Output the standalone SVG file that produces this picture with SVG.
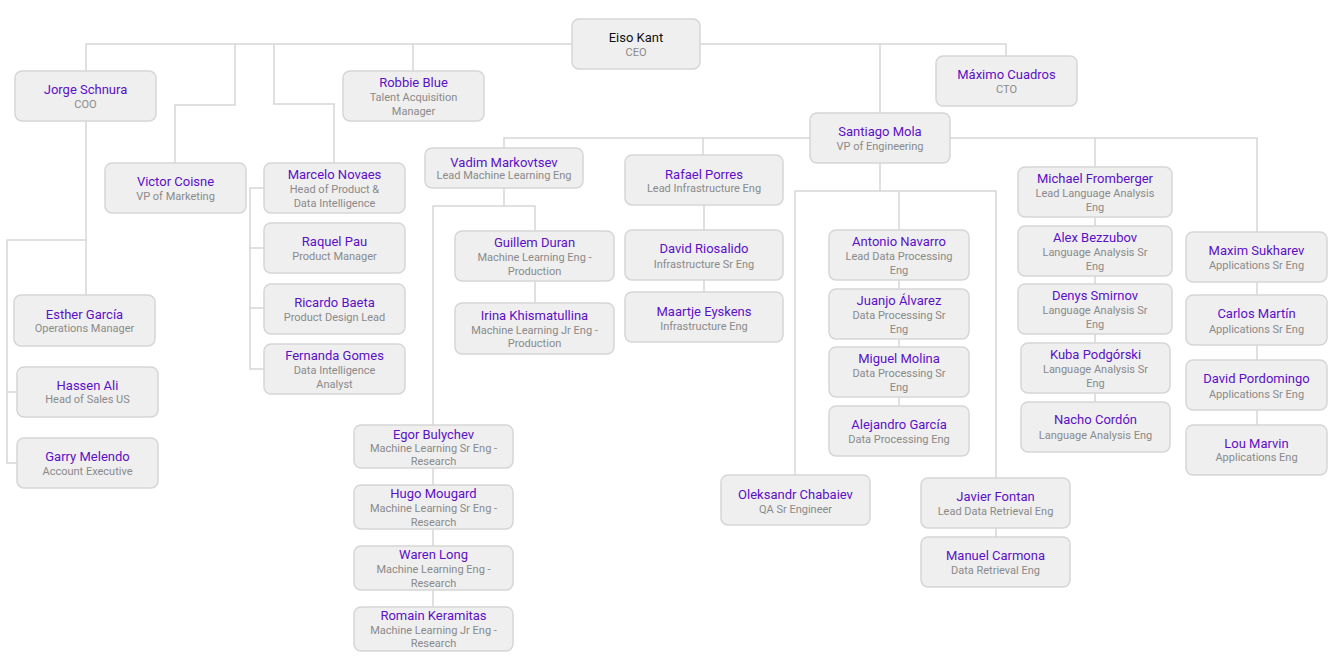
<svg xmlns="http://www.w3.org/2000/svg" width="1331" height="663" viewBox="0 0 1331 663">
<style>
.bg{fill:#ffffff}
.ln{fill:none;stroke:#d6d6d6;stroke-width:1.5}
.box{fill:#efefef;stroke:#d6d6d6;stroke-width:1.5}
.nm{font-family:Roboto,"Liberation Sans",sans-serif;font-size:13px;fill:#5c10c7;text-anchor:middle}
.ceo{fill:#111111}
.tt{font-family:Roboto,"Liberation Sans",sans-serif;font-size:11px;fill:#8a8a8a;text-anchor:middle}
</style>
<rect class="bg" x="0" y="0" width="1331" height="663"/>
<g id="connectors">
<polyline class="ln" points="86,71 86,44 1006,44 1006,56"/>
<line class="ln" x1="413" y1="44" x2="413" y2="71"/>
<line class="ln" x1="880" y1="44" x2="880" y2="113"/>
<polyline class="ln" points="235,44 235,105 175,105 175,163"/>
<polyline class="ln" points="274,44 274,104 334,104 334,163"/>
<line class="ln" x1="86" y1="121" x2="86" y2="295"/>
<polyline class="ln" points="86,240 7,240 7,463 17,463"/>
<line class="ln" x1="7" y1="392" x2="17" y2="392"/>
<polyline class="ln" points="264,188 250,188 250,369 264,369"/>
<line class="ln" x1="250" y1="248" x2="264" y2="248"/>
<line class="ln" x1="250" y1="308" x2="264" y2="308"/>
<polyline class="ln" points="504,148 504,138 1257,138 1257,232"/>
<line class="ln" x1="703" y1="138" x2="703" y2="155"/>
<line class="ln" x1="1095" y1="138" x2="1095" y2="167"/>
<line class="ln" x1="1095" y1="217" x2="1095" y2="402"/>
<line class="ln" x1="1257" y1="282" x2="1257" y2="425"/>
<line class="ln" x1="880" y1="163" x2="880" y2="191"/>
<polyline class="ln" points="795,475 795,191 996,191 996,478"/>
<line class="ln" x1="899" y1="191" x2="899" y2="406"/>
<line class="ln" x1="996" y1="528" x2="996" y2="537"/>
<line class="ln" x1="504" y1="188" x2="504" y2="206"/>
<polyline class="ln" points="433,425 433,206 535,206 535,231"/>
<line class="ln" x1="535" y1="281" x2="535" y2="303"/>
<line class="ln" x1="433" y1="468" x2="433" y2="607"/>
<line class="ln" x1="704" y1="205" x2="704" y2="292"/>
</g>
<g id="n-eiso"><rect class="box" x="572" y="19" width="128" height="50" rx="7"/><text class="nm ceo" x="636" y="42">Eiso Kant</text><text class="tt" x="636" y="55.5">CEO</text></g>
<g id="n-jorge"><rect class="box" x="15" y="71" width="141" height="50" rx="7"/><text class="nm" x="85.5" y="94">Jorge Schnura</text><text class="tt" x="85.5" y="107.5">COO</text></g>
<g id="n-robbie"><rect class="box" x="343" y="71" width="141" height="50" rx="7"/><text class="nm" x="413.5" y="87">Robbie Blue</text><text class="tt" x="413.5" y="101">Talent Acquisition</text><text class="tt" x="413.5" y="115">Manager</text></g>
<g id="n-maximo"><rect class="box" x="936" y="56" width="141" height="50" rx="7"/><text class="nm" x="1006.5" y="79">Máximo Cuadros</text><text class="tt" x="1006.5" y="92.5">CTO</text></g>
<g id="n-santiago"><rect class="box" x="810" y="113" width="140" height="50" rx="7"/><text class="nm" x="880" y="136">Santiago Mola</text><text class="tt" x="880" y="149.5">VP of Engineering</text></g>
<g id="n-victor"><rect class="box" x="105" y="163" width="141" height="50" rx="7"/><text class="nm" x="175.5" y="186">Victor Coisne</text><text class="tt" x="175.5" y="199.5">VP of Marketing</text></g>
<g id="n-marcelo"><rect class="box" x="264" y="163" width="141" height="50" rx="7"/><text class="nm" x="334.5" y="179">Marcelo Novaes</text><text class="tt" x="334.5" y="193">Head of Product &amp;</text><text class="tt" x="334.5" y="207">Data Intelligence</text></g>
<g id="n-raquel"><rect class="box" x="264" y="223" width="141" height="50" rx="7"/><text class="nm" x="334.5" y="246">Raquel Pau</text><text class="tt" x="334.5" y="259.5">Product Manager</text></g>
<g id="n-ricardo"><rect class="box" x="264" y="284" width="141" height="50" rx="7"/><text class="nm" x="334.5" y="307">Ricardo Baeta</text><text class="tt" x="334.5" y="320.5">Product Design Lead</text></g>
<g id="n-fernanda"><rect class="box" x="264" y="344" width="141" height="50" rx="7"/><text class="nm" x="334.5" y="360">Fernanda Gomes</text><text class="tt" x="334.5" y="374">Data Intelligence</text><text class="tt" x="334.5" y="388">Analyst</text></g>
<g id="n-esther"><rect class="box" x="14" y="295" width="141" height="51" rx="7"/><text class="nm" x="84.5" y="319">Esther García</text><text class="tt" x="84.5" y="332">Operations Manager</text></g>
<g id="n-hassen"><rect class="box" x="17" y="367" width="141" height="50" rx="7"/><text class="nm" x="87.5" y="390">Hassen Ali</text><text class="tt" x="87.5" y="403">Head of Sales US</text></g>
<g id="n-garry"><rect class="box" x="17" y="438" width="141" height="50" rx="7"/><text class="nm" x="87.5" y="461">Garry Melendo</text><text class="tt" x="87.5" y="474.5">Account Executive</text></g>
<g id="n-vadim"><rect class="box" x="425" y="148" width="158" height="40" rx="7"/><text class="nm" x="504" y="166.5">Vadim Markovtsev</text><text class="tt" x="504" y="179">Lead Machine Learning Eng</text></g>
<g id="n-rafael"><rect class="box" x="625" y="155" width="158" height="50" rx="7"/><text class="nm" x="704" y="179">Rafael Porres</text><text class="tt" x="704" y="192">Lead Infrastructure Eng</text></g>
<g id="n-guillem"><rect class="box" x="455" y="231" width="159" height="50" rx="7"/><text class="nm" x="534.5" y="247">Guillem Duran</text><text class="tt" x="534.5" y="261">Machine Learning Eng -</text><text class="tt" x="534.5" y="275">Production</text></g>
<g id="n-irina"><rect class="box" x="455" y="303" width="159" height="51" rx="7"/><text class="nm" x="534.5" y="320">Irina Khismatullina</text><text class="tt" x="534.5" y="333.5">Machine Learning Jr Eng -</text><text class="tt" x="534.5" y="347">Production</text></g>
<g id="n-david-r"><rect class="box" x="625" y="230" width="158" height="50" rx="7"/><text class="nm" x="704" y="253">David Riosalido</text><text class="tt" x="704" y="267.5">Infrastructure Sr Eng</text></g>
<g id="n-maartje"><rect class="box" x="625" y="292" width="158" height="50" rx="7"/><text class="nm" x="704" y="316">Maartje Eyskens</text><text class="tt" x="704" y="329.5">Infrastructure Eng</text></g>
<g id="n-egor"><rect class="box" x="354" y="425" width="159" height="43" rx="7"/><text class="nm" x="433.5" y="438.5">Egor Bulychev</text><text class="tt" x="433.5" y="451.5">Machine Learning Sr Eng -</text><text class="tt" x="433.5" y="465">Research</text></g>
<g id="n-hugo"><rect class="box" x="354" y="485" width="159" height="44" rx="7"/><text class="nm" x="433.5" y="498">Hugo Mougard</text><text class="tt" x="433.5" y="512">Machine Learning Sr Eng -</text><text class="tt" x="433.5" y="526">Research</text></g>
<g id="n-waren"><rect class="box" x="354" y="546" width="159" height="44" rx="7"/><text class="nm" x="433.5" y="559">Waren Long</text><text class="tt" x="433.5" y="573">Machine Learning Eng -</text><text class="tt" x="433.5" y="587">Research</text></g>
<g id="n-romain"><rect class="box" x="354" y="607" width="159" height="44" rx="7"/><text class="nm" x="433.5" y="620">Romain Keramitas</text><text class="tt" x="433.5" y="633.5">Machine Learning Jr Eng -</text><text class="tt" x="433.5" y="647">Research</text></g>
<g id="n-antonio"><rect class="box" x="829" y="230" width="140" height="50" rx="7"/><text class="nm" x="899" y="246">Antonio Navarro</text><text class="tt" x="899" y="260">Lead Data Processing</text><text class="tt" x="899" y="273.5">Eng</text></g>
<g id="n-juanjo"><rect class="box" x="829" y="289" width="140" height="50" rx="7"/><text class="nm" x="899" y="305">Juanjo Álvarez</text><text class="tt" x="899" y="319">Data Processing Sr</text><text class="tt" x="899" y="333">Eng</text></g>
<g id="n-miguel"><rect class="box" x="829" y="347" width="140" height="50" rx="7"/><text class="nm" x="899" y="363">Miguel Molina</text><text class="tt" x="899" y="377">Data Processing Sr</text><text class="tt" x="899" y="391">Eng</text></g>
<g id="n-alejandro"><rect class="box" x="829" y="406" width="140" height="50" rx="7"/><text class="nm" x="899" y="429">Alejandro García</text><text class="tt" x="899" y="442.5">Data Processing Eng</text></g>
<g id="n-oleksandr"><rect class="box" x="721" y="475" width="149" height="50" rx="7"/><text class="nm" x="795.5" y="498.5">Oleksandr Chabaiev</text><text class="tt" x="795.5" y="512.5">QA Sr Engineer</text></g>
<g id="n-javier"><rect class="box" x="921" y="478" width="149" height="50" rx="7"/><text class="nm" x="995.5" y="501">Javier Fontan</text><text class="tt" x="995.5" y="515">Lead Data Retrieval Eng</text></g>
<g id="n-manuel"><rect class="box" x="921" y="537" width="149" height="50" rx="7"/><text class="nm" x="995.5" y="560">Manuel Carmona</text><text class="tt" x="995.5" y="574">Data Retrieval Eng</text></g>
<g id="n-michael"><rect class="box" x="1018" y="167" width="154" height="50" rx="7"/><text class="nm" x="1095" y="183">Michael Fromberger</text><text class="tt" x="1095" y="196.5">Lead Language Analysis</text><text class="tt" x="1095" y="210.5">Eng</text></g>
<g id="n-alex"><rect class="box" x="1018" y="226" width="154" height="50" rx="7"/><text class="nm" x="1095" y="242">Alex Bezzubov</text><text class="tt" x="1095" y="255.5">Language Analysis Sr</text><text class="tt" x="1095" y="269.5">Eng</text></g>
<g id="n-denys"><rect class="box" x="1018" y="284" width="154" height="50" rx="7"/><text class="nm" x="1095" y="300">Denys Smirnov</text><text class="tt" x="1095" y="314">Language Analysis Sr</text><text class="tt" x="1095" y="328">Eng</text></g>
<g id="n-kuba"><rect class="box" x="1021" y="343" width="149" height="50" rx="7"/><text class="nm" x="1095.5" y="359">Kuba Podgórski</text><text class="tt" x="1095.5" y="372.5">Language Analysis Sr</text><text class="tt" x="1095.5" y="386.5">Eng</text></g>
<g id="n-nacho"><rect class="box" x="1021" y="402" width="149" height="50" rx="7"/><text class="nm" x="1095.5" y="424">Nacho Cordón</text><text class="tt" x="1095.5" y="438.5">Language Analysis Eng</text></g>
<g id="n-maxim"><rect class="box" x="1186" y="232" width="141" height="50" rx="7"/><text class="nm" x="1256.5" y="255">Maxim Sukharev</text><text class="tt" x="1256.5" y="268.5">Applications Sr Eng</text></g>
<g id="n-carlos"><rect class="box" x="1186" y="295" width="141" height="50" rx="7"/><text class="nm" x="1256.5" y="318">Carlos Martín</text><text class="tt" x="1256.5" y="332.5">Applications Sr Eng</text></g>
<g id="n-david-p"><rect class="box" x="1186" y="360" width="141" height="50" rx="7"/><text class="nm" x="1256.5" y="383">David Pordomingo</text><text class="tt" x="1256.5" y="397.5">Applications Sr Eng</text></g>
<g id="n-lou"><rect class="box" x="1186" y="425" width="141" height="50" rx="7"/><text class="nm" x="1256.5" y="448">Lou Marvin</text><text class="tt" x="1256.5" y="461">Applications Eng</text></g>
</svg>
